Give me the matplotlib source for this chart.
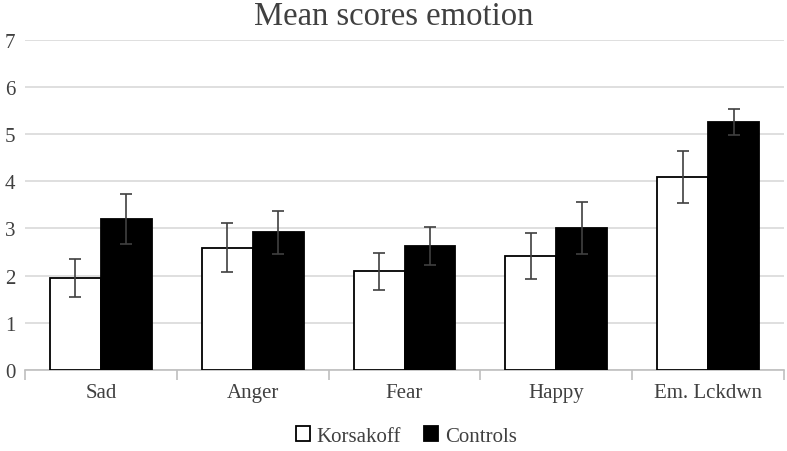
import matplotlib
matplotlib.use("Agg")
import matplotlib.pyplot as plt
import numpy as np

categories = ["Sad", "Anger", "Fear", "Happy", "Em. Lckdwn"]
korsakoff = [1.95, 2.59, 2.09, 2.42, 4.10]
korsakoff_err = [0.40, 0.52, 0.40, 0.48, 0.55]
controls = [3.21, 2.92, 2.63, 3.01, 5.25]
controls_err = [0.53, 0.46, 0.40, 0.55, 0.28]

plt.rcParams['font.family'] = ['Liberation Serif', 'DejaVu Serif']

fig = plt.figure(figsize=(7.87, 4.52), dpi=100)
ax = fig.add_axes([0.0318, 0.179, 0.9644, 0.731])

x = np.arange(len(categories))
w = 0.335
err_kw = dict(ecolor='#404040', elinewidth=1.2, capsize=4, capthick=1.2)
ax.bar(x - w/2, korsakoff, w, yerr=korsakoff_err, color='white',
       edgecolor='black', linewidth=1.3, label='Korsakoff', error_kw=err_kw, zorder=3)
ax.bar(x + w/2, controls, w, yerr=controls_err, color='black',
       edgecolor='black', linewidth=1.3, label='Controls', error_kw=err_kw, zorder=3)

ax.set_xlim(-0.5, len(categories) - 0.5)
ax.set_ylim(0, 7)
ax.set_yticks(range(8))
ax.yaxis.grid(True, color='#d9d9d9', linewidth=1.2, zorder=0)
ax.set_axisbelow(True)

for s in ['left', 'right', 'top']:
    ax.spines[s].set_visible(False)
ax.spines['bottom'].set_color('#bfbfbf')
ax.spines['bottom'].set_linewidth(1.2)

ax.set_xticks(x)
ax.set_xticklabels(categories)
ax.tick_params(axis='x', length=0, pad=9, labelsize=15, labelcolor='#404040')
ax.set_xticks(np.arange(-0.5, len(categories)), minor=True)
ax.tick_params(axis='x', which='minor', length=7, color='#bfbfbf', width=1.2)
ax.tick_params(axis='y', length=0, pad=7, labelsize=15, labelcolor='#404040')

fig.text(0.5, 0.962, "Mean scores emotion", ha='center', va='center',
         fontsize=23.5, color='#404040')

fig.legend(loc='center', bbox_to_anchor=(0.516, 0.033), ncol=2, frameon=False,
           fontsize=15, handlelength=0.7, handleheight=0.7, handletextpad=0.3,
           columnspacing=1.1, labelcolor='#404040')

fig.savefig("out.png", dpi=100)
